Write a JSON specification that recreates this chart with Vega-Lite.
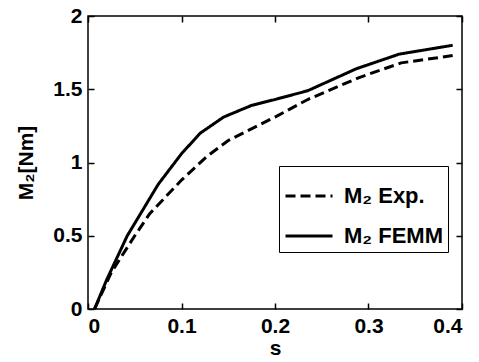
{
  "$schema": "https://vega.github.io/schema/vega-lite/v6.json",
  "autosize": "none",
  "width": 374,
  "height": 293,
  "padding": {"left": 88, "top": 16, "right": 17, "bottom": 53},
  "background": "white",
  "config": {
    "font": "Liberation Sans",
    "view": {"stroke": "black", "strokeWidth": 1.5},
    "axis": {
      "labelFont": "Liberation Sans", "labelFontWeight": "bold", "labelFontSize": 21, "labelColor": "black",
      "titleFont": "Liberation Sans", "titleFontWeight": "bold", "titleFontSize": 21, "titleColor": "black",
      "domain": false, "grid": false, "tickColor": "black", "tickSize": -6, "tickWidth": 1.5
    }
  },
  "data": {"values": [
    {"s": 0.007, "m": 0.0, "series": "M₂ Exp."},
    {"s": 0.025, "m": 0.25, "series": "M₂ Exp."},
    {"s": 0.05, "m": 0.50, "series": "M₂ Exp."},
    {"s": 0.066, "m": 0.65, "series": "M₂ Exp."},
    {"s": 0.1, "m": 0.88, "series": "M₂ Exp."},
    {"s": 0.127, "m": 1.04, "series": "M₂ Exp."},
    {"s": 0.15, "m": 1.15, "series": "M₂ Exp."},
    {"s": 0.2, "m": 1.31, "series": "M₂ Exp."},
    {"s": 0.235, "m": 1.43, "series": "M₂ Exp."},
    {"s": 0.29, "m": 1.58, "series": "M₂ Exp."},
    {"s": 0.335, "m": 1.68, "series": "M₂ Exp."},
    {"s": 0.39, "m": 1.73, "series": "M₂ Exp."},
    {"s": 0.007, "m": 0.0, "series": "M₂ FEMM"},
    {"s": 0.02, "m": 0.2, "series": "M₂ FEMM"},
    {"s": 0.042, "m": 0.5, "series": "M₂ FEMM"},
    {"s": 0.075, "m": 0.85, "series": "M₂ FEMM"},
    {"s": 0.1, "m": 1.06, "series": "M₂ FEMM"},
    {"s": 0.12, "m": 1.2, "series": "M₂ FEMM"},
    {"s": 0.145, "m": 1.31, "series": "M₂ FEMM"},
    {"s": 0.175, "m": 1.39, "series": "M₂ FEMM"},
    {"s": 0.2, "m": 1.43, "series": "M₂ FEMM"},
    {"s": 0.235, "m": 1.49, "series": "M₂ FEMM"},
    {"s": 0.287, "m": 1.64, "series": "M₂ FEMM"},
    {"s": 0.333, "m": 1.74, "series": "M₂ FEMM"},
    {"s": 0.39, "m": 1.80, "series": "M₂ FEMM"}
  ]},
  "layer": [
    {
      "mark": {"type": "line", "color": "black", "strokeWidth": 3},
      "encoding": {
        "x": {"field": "s", "type": "quantitative", "scale": {"domain": [0, 0.4], "nice": false},
              "axis": {"values": [0, 0.1, 0.2, 0.3, 0.4], "title": "s", "labelPadding": 12, "titlePadding": 1, "format": "~g"}},
        "y": {"field": "m", "type": "quantitative", "scale": {"domain": [0, 2], "nice": false},
              "axis": {"values": [0, 0.5, 1, 1.5, 2], "title": "M₂[Nm]", "labelPadding": 12, "titlePadding": 16, "format": "~g"}},
        "strokeDash": {"field": "series", "type": "nominal",
          "scale": {"domain": ["M₂ Exp.", "M₂ FEMM"], "range": [[10, 5], [1, 0]]},
          "legend": {
            "title": null, "orient": "none", "legendX": 191, "legendY": 150,
            "strokeColor": "black", "fillColor": "white", "padding": 5,
            "labelFont": "Liberation Sans", "labelFontWeight": "bold", "labelFontSize": 22, "labelColor": "black",
            "symbolType": "stroke", "symbolSize": 2209, "symbolStrokeWidth": 3, "symbolStrokeColor": "black",
            "rowPadding": 4, "labelOffset": 10
          }}
      }
    },
    {
      "mark": {"type": "rule", "opacity": 0},
      "encoding": {
        "x": {"datum": 0, "type": "quantitative", "axis": {"orient": "top", "values": [0, 0.1, 0.2, 0.3, 0.4], "labels": false, "title": null}},
        "y": {"datum": 0, "type": "quantitative", "axis": {"orient": "right", "values": [0, 0.5, 1, 1.5, 2], "labels": false, "title": null}}
      }
    }
  ],
  "resolve": {"axis": {"x": "independent", "y": "independent"}}
}
